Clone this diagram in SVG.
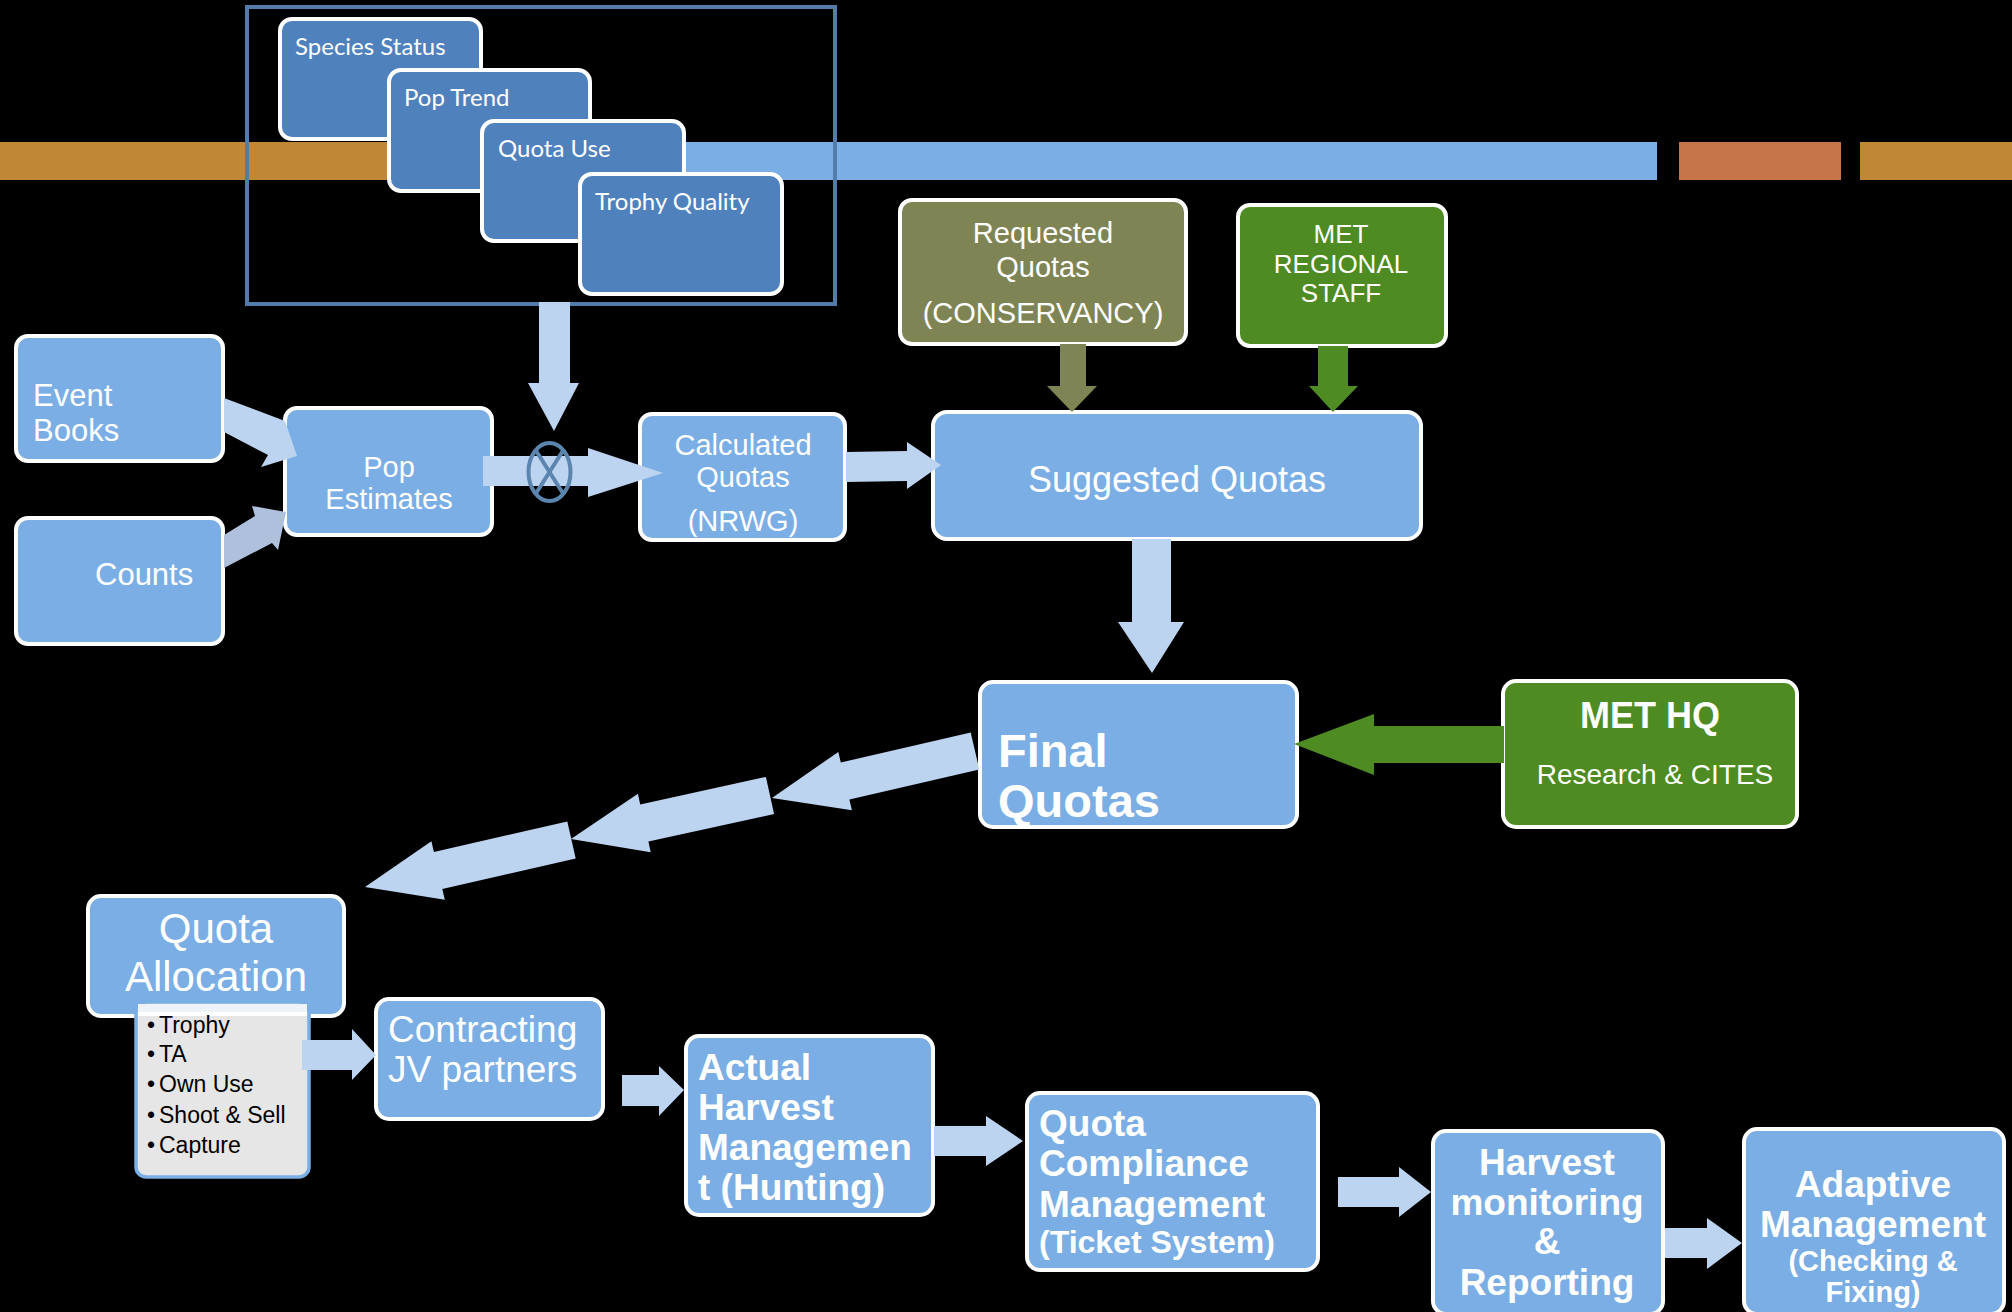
<svg xmlns="http://www.w3.org/2000/svg" width="2012" height="1312" viewBox="0 0 2012 1312">
<style>
.box{stroke:#fff;stroke-width:4}
.blue{fill:#7AAEE4}
.dblue{fill:#4F81BD}
.olive{fill:#7F8455}
.green{fill:#4E8B22}
.arr{fill:#BDD4F0}
.t{font-family:"Liberation Sans",Arial,sans-serif;fill:#fff}
.b{font-weight:bold}
.c{font-family:Lato,"Open Sans",sans-serif;fill:#fff;font-size:24px}
.mid{text-anchor:middle}
.blk{font-family:"Liberation Sans",Arial,sans-serif;fill:#000;font-size:23px}
</style>
<rect x="0" y="0" width="2012" height="1312" fill="#000"/>
<g id="timeline">
<rect x="0" y="142" width="500" height="38" fill="#C08737"/>
<rect x="500" y="142" width="1157" height="38" fill="#7AAEE4"/>
<rect x="1679" y="142" width="162" height="38" fill="#C6754A"/>
<rect x="1860" y="142" width="152" height="38" fill="#C08737"/>
</g>
<g id="frame">
<rect x="247" y="7" width="588" height="297" fill="none" stroke="#527DAA" stroke-width="4"/>
</g>
<g id="species-status">
<rect class="box dblue" x="280" y="19" width="201" height="120" rx="12"/>
<text class="c" x="295" y="55">Species Status</text>
</g>
<g id="pop-trend">
<rect class="box dblue" x="389" y="70" width="201" height="121" rx="12"/>
<text class="c" x="404" y="106">Pop Trend</text>
</g>
<g id="quota-use">
<rect class="box dblue" x="482" y="121" width="202" height="120" rx="12"/>
<text class="c" x="498" y="157">Quota Use</text>
</g>
<g id="trophy-quality">
<rect class="box dblue" x="580" y="174" width="202" height="120" rx="12"/>
<text class="c" x="595" y="210">Trophy Quality</text>
</g>
<g id="event-books">
<rect class="box blue" x="16" y="336" width="207" height="125" rx="12"/>
<text class="t" font-size="31" x="33" y="406">Event</text>
<text class="t" font-size="31" x="33" y="441">Books</text>
</g>
<g id="counts">
<rect class="box blue" x="16" y="518" width="207" height="126" rx="12"/>
<text class="t" font-size="31" x="95" y="585">Counts</text>
</g>
<g id="pop-estimates">
<rect class="box blue" x="285" y="408" width="207" height="127" rx="12"/>
<text class="t mid" font-size="29" x="389" y="477">Pop</text>
<text class="t mid" font-size="29" x="389" y="509">Estimates</text>
</g>
<g id="calculated-quotas">
<rect class="box blue" x="640" y="414" width="205" height="126" rx="12"/>
<text class="t mid" font-size="29" x="743" y="455">Calculated</text>
<text class="t mid" font-size="29" x="743" y="487">Quotas</text>
<text class="t mid" font-size="29" x="743" y="531">(NRWG)</text>
</g>
<g id="suggested-quotas">
<rect class="box blue" x="933" y="412" width="488" height="127" rx="14"/>
<text class="t mid" font-size="36" x="1177" y="492">Suggested Quotas</text>
</g>
<g id="requested-quotas">
<rect class="box olive" x="900" y="200" width="286" height="144" rx="12"/>
<text class="t mid" font-size="29" x="1043" y="243">Requested</text>
<text class="t mid" font-size="29" x="1043" y="277">Quotas</text>
<text class="t mid" font-size="29" x="1043" y="323">(CONSERVANCY)</text>
</g>
<g id="met-regional-staff">
<rect class="box green" x="1238" y="205" width="208" height="141" rx="12"/>
<text class="t mid" font-size="26" x="1341" y="243">MET</text>
<text class="t mid" font-size="26" x="1341" y="273">REGIONAL</text>
<text class="t mid" font-size="26" x="1341" y="302">STAFF</text>
</g>
<g id="final-quotas">
<rect class="box blue" x="980" y="682" width="317" height="145" rx="13"/>
<text class="t b" font-size="47" x="998" y="767">Final</text>
<text class="t b" font-size="47" x="998" y="817">Quotas</text>
</g>
<g id="met-hq">
<rect class="box green" x="1503" y="681" width="294" height="146" rx="13"/>
<text class="t b mid" font-size="36" x="1650" y="728">MET HQ</text>
<text class="t mid" font-size="28" x="1655" y="784">Research &amp; CITES</text>
</g>
<g id="quota-allocation">
<rect class="box blue" x="88" y="896" width="256" height="120" rx="13"/>
<text class="t mid" font-size="42" x="216" y="943">Quota</text>
<text class="t mid" font-size="42" x="216" y="991">Allocation</text>
</g>
<g id="allocation-types">
<rect x="136" y="1002" width="173" height="175" rx="10" fill="#E6E6E6" stroke="#7AAEE4" stroke-width="3.5"/>
<rect x="138" y="1004" width="169" height="9" fill="#EEF3FA"/>
<rect x="138" y="1012" width="169" height="4" fill="#fff"/>
<text class="blk" x="147" y="1033">•<tspan x="159">Trophy</tspan></text>
<text class="blk" x="147" y="1062">•<tspan x="159">TA</tspan></text>
<text class="blk" x="147" y="1092">•<tspan x="159">Own Use</tspan></text>
<text class="blk" x="147" y="1123">•<tspan x="159">Shoot &amp; Sell</tspan></text>
<text class="blk" x="147" y="1153">•<tspan x="159">Capture</tspan></text>
</g>
<g id="contracting-jv">
<rect class="box blue" x="376" y="999" width="227" height="120" rx="13"/>
<text class="t" font-size="37" x="388" y="1042">Contracting</text>
<text class="t" font-size="37" x="388" y="1082">JV partners</text>
</g>
<g id="actual-harvest">
<rect class="box blue" x="686" y="1036" width="247" height="179" rx="13"/>
<text class="t b" font-size="37" x="698" y="1080">Actual</text>
<text class="t b" font-size="37" x="698" y="1120">Harvest</text>
<text class="t b" font-size="37" x="698" y="1160">Managemen</text>
<text class="t b" font-size="37" x="698" y="1200">t (Hunting)</text>
</g>
<g id="quota-compliance">
<rect class="box blue" x="1027" y="1093" width="291" height="177" rx="13"/>
<text class="t b" font-size="37" x="1039" y="1136">Quota</text>
<text class="t b" font-size="37" x="1039" y="1176">Compliance</text>
<text class="t b" font-size="37" x="1039" y="1217">Management</text>
<text class="t b" font-size="32" x="1039" y="1253">(Ticket System)</text>
</g>
<g id="harvest-monitoring">
<rect class="box blue" x="1433" y="1131" width="230" height="183" rx="13"/>
<text class="t b mid" font-size="37" x="1547" y="1175">Harvest</text>
<text class="t b mid" font-size="37" x="1547" y="1215">monitoring</text>
<text class="t b mid" font-size="37" x="1547" y="1254">&amp;</text>
<text class="t b mid" font-size="37" x="1547" y="1295">Reporting</text>
</g>
<g id="adaptive-management">
<rect class="box blue" x="1744" y="1129" width="260" height="185" rx="13"/>
<text class="t b mid" font-size="37" x="1873" y="1197">Adaptive</text>
<text class="t b mid" font-size="37" x="1873" y="1237">Management</text>
<text class="t b mid" font-size="29" x="1873" y="1271">(Checking &amp;</text>
<text class="t b mid" font-size="29" x="1873" y="1302">Fixing)</text>
</g>
<g id="connectors">
<polygon class="arr" points="539,302 570,302 570,383 579,383 554,431 528,383 539,383"/>
<polygon class="arr" points="483,456 588,456 588,448 663,473 588,497 588,486 483,486"/>
<polygon class="arr" points="846,452 907,451 907,442 941,465 907,489 907,481 846,482"/>
<polygon class="arr" points="224,398 285,421 297,456 261,467 268,455 224,432"/>
<polygon fill="#AFC0DC" points="224,535 255,516 252,506 286,512 278,550 272,543 224,568"/>
<polygon fill="#7F8455" points="1060,344 1086,344 1086,386 1097,386 1072,412 1047,386 1060,386"/>
<polygon fill="#4E8B22" points="1318,346 1348,346 1348,386 1358,386 1333,412 1309,386 1318,386"/>
<polygon class="arr" points="1132,539 1171,539 1171,622 1184,622 1152,673 1118,622 1132,622"/>
<polygon fill="#4E8B22" points="1504,726 1374,726 1374,714 1294,744 1374,775 1374,763 1504,763"/>
<polygon class="arr" points="970.7,732.5 840.8,762.6 838.3,751.9 772,798 851.9,810.3 849.4,799.6 979.3,769.5"/>
<polygon class="arr" points="765.9,776.9 640.2,804.4 637.9,793.7 571,839 650.7,852.3 648.4,841.6 774.1,814.1"/>
<polygon class="arr" points="567.3,821.5 433.9,851.9 431.4,841.2 365,887 444.8,899.7 442.3,888.9 575.7,858.5"/>
<polygon class="arr" points="302,1040 352,1040 352,1029 376,1055 352,1080 352,1070 302,1070"/>
<polygon class="arr" points="622,1075 659,1075 659,1066 684,1090 659,1116 659,1106 622,1106"/>
<polygon class="arr" points="934,1126 986,1126 986,1116 1023,1141 986,1166 986,1156 934,1156"/>
<polygon class="arr" points="1338,1177 1399,1177 1399,1167 1431,1192 1399,1217 1399,1207 1338,1207"/>
<polygon class="arr" points="1665,1228 1707,1228 1707,1218 1742,1243 1707,1269 1707,1258 1665,1258"/>
<g id="merge-symbol" fill="none" stroke="#5B84AE" stroke-width="4">
<ellipse cx="549.5" cy="472" rx="21" ry="29"/>
<line x1="535" y1="449" x2="564" y2="495"/>
<line x1="564" y1="449" x2="535" y2="495"/>
</g>
</g>
</svg>
